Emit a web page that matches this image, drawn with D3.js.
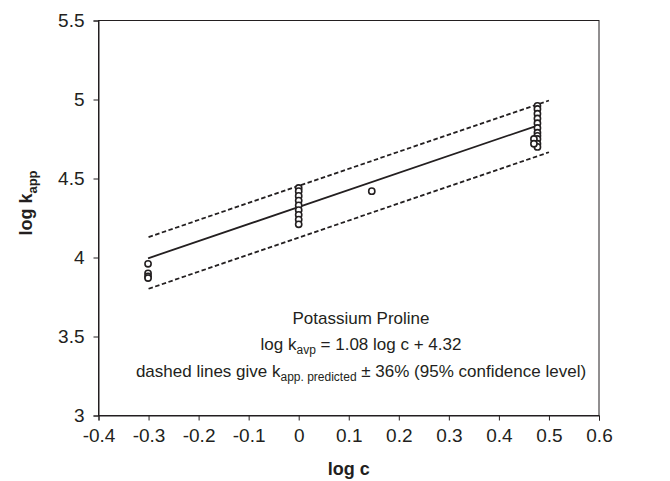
<!DOCTYPE html>
<html>
<head>
<meta charset="utf-8">
<script src="https://cdn.jsdelivr.net/npm/d3@7"></script>
<style>
  html, body { margin: 0; padding: 0; background: #fff; }
  svg { display: block; font-family: "Liberation Sans", Arial, sans-serif; }
</style>
</head>
<body>
<svg id="chart" width="670" height="481"></svg>
<script>
// Measured points: log c and log k_app
const logC = [
  -0.301, -0.301, -0.301, -0.301,
  0, 0, 0, 0, 0, 0, 0, 0, 0,
  0.146,
  0.477, 0.477, 0.477, 0.477, 0.477, 0.477, 0.477, 0.477, 0.477, 0.477, 0.477,
  0.470, 0.470
];
const logK = [
  3.96, 3.90, 3.88, 3.87,
  4.44, 4.42, 4.39, 4.36, 4.33, 4.30, 4.27, 4.24, 4.21,
  4.42,
  4.96, 4.94, 4.91, 4.88, 4.85, 4.82, 4.79, 4.77, 4.75, 4.72, 4.70,
  4.75, 4.72
];

// Regression: log k = 1.08 log c + 4.32, band ±36 % on k
const fitSlope = 1.08;
const fitIntercept = 4.32;
const bandUpper = 1.36;
const bandLower = 0.64;
const fitRange = [-0.301, 0.477];
const bandRange = [-0.3, 0.5];

const xTicks = [-0.4, -0.3, -0.2, -0.1, 0, 0.1, 0.2, 0.3, 0.4, 0.5, 0.6];
const yTicks = [3, 3.5, 4, 4.5, 5, 5.5];

const svg = d3.select("#chart");
const plotL = 98.5, plotR = 599, plotT = 20.5, plotB = 415.5;

const x = d3.scaleLinear().domain([-0.4, 0.6]).range([plotL, plotR]);
const y = d3.scaleLinear().domain([3, 5.5]).range([plotB, plotT]);

const ink = "#231f20";

// plot frame
svg.append("rect")
  .attr("x", plotL).attr("y", plotT)
  .attr("width", plotR - plotL).attr("height", plotB - plotT)
  .attr("fill", "none").attr("stroke", ink).attr("stroke-width", 1);

// axes (plain hyphen for negatives)
const fmt = d => String(d);
const yAxis = svg.append("g")
  .attr("transform", `translate(${plotL},0)`)
  .call(d3.axisLeft(y).tickValues(yTicks).tickSize(5).tickPadding(9).tickFormat(fmt));
const xAxis = svg.append("g")
  .attr("transform", `translate(0,${plotB})`)
  .call(d3.axisBottom(x).tickValues(xTicks).tickSize(5).tickPadding(8).tickFormat(fmt));

[yAxis, xAxis].forEach(g => {
  g.select(".domain").attr("stroke", ink);
  g.selectAll(".tick line").attr("stroke", ink);
  g.selectAll(".tick text")
    .attr("fill", ink)
    .style("font-family", "'Liberation Sans', Arial, sans-serif")
    .style("font-size", "19px");
});

// fit line and confidence band
const line = d3.line().x(d => x(d[0])).y(d => y(d[1]));
const fitAt = c => fitSlope * c + fitIntercept;

svg.append("path")
  .datum(fitRange.map(c => [c, fitAt(c)]))
  .attr("d", line)
  .attr("fill", "none").attr("stroke", ink).attr("stroke-width", 1.8);

[bandUpper, bandLower].forEach(f => {
  svg.append("path")
    .datum(bandRange.map(c => [c, fitAt(c) + Math.log10(f)]))
    .attr("d", line)
    .attr("fill", "none").attr("stroke", ink)
    .attr("stroke-width", 1.8)
    .attr("stroke-dasharray", "4.5,2.5");
});

// points
svg.append("g").selectAll("circle")
  .data(logC.map((c, i) => [c, logK[i]]))
  .join("circle")
  .attr("cx", d => x(d[0]))
  .attr("cy", d => y(d[1]))
  .attr("r", 3.1)
  .attr("fill", "#fff")
  .attr("stroke", ink)
  .attr("stroke-width", 1.6);

// axis titles
svg.append("text")
  .attr("x", (plotL + plotR) / 2).attr("y", 475)
  .attr("text-anchor", "middle")
  .attr("fill", ink)
  .style("font-size", "18px").style("font-weight", "bold")
  .text("log c");

const yTitle = svg.append("text")
  .attr("transform", "translate(32,203) rotate(-90)")
  .attr("text-anchor", "middle")
  .attr("fill", ink)
  .style("font-size", "18px").style("font-weight", "bold");
yTitle.append("tspan").text("log k");
yTitle.append("tspan").attr("dy", 5).style("font-size", "13px").text("app");

// annotation
const noteX = 361;
const note = svg.append("g").attr("fill", ink).style("font-size", "17px");
note.append("text").attr("x", noteX).attr("y", 324)
  .attr("text-anchor", "middle").text("Potassium Proline");

const eq = note.append("text").attr("x", noteX).attr("y", 350).attr("text-anchor", "middle");
eq.append("tspan").text("log k");
eq.append("tspan").attr("dy", 4).style("font-size", "12px").text("avp");
eq.append("tspan").attr("dy", -4).text(` = ${fitSlope.toFixed(2)} log c + ${fitIntercept.toFixed(2)}`);

const band = note.append("text").attr("x", noteX).attr("y", 377).attr("text-anchor", "middle");
band.append("tspan").text("dashed lines give k");
band.append("tspan").attr("dy", 4).style("font-size", "12px").text("app. predicted");
band.append("tspan").attr("dy", -4).text(" ± 36% (95% confidence level)");
</script>
</body>
</html>
